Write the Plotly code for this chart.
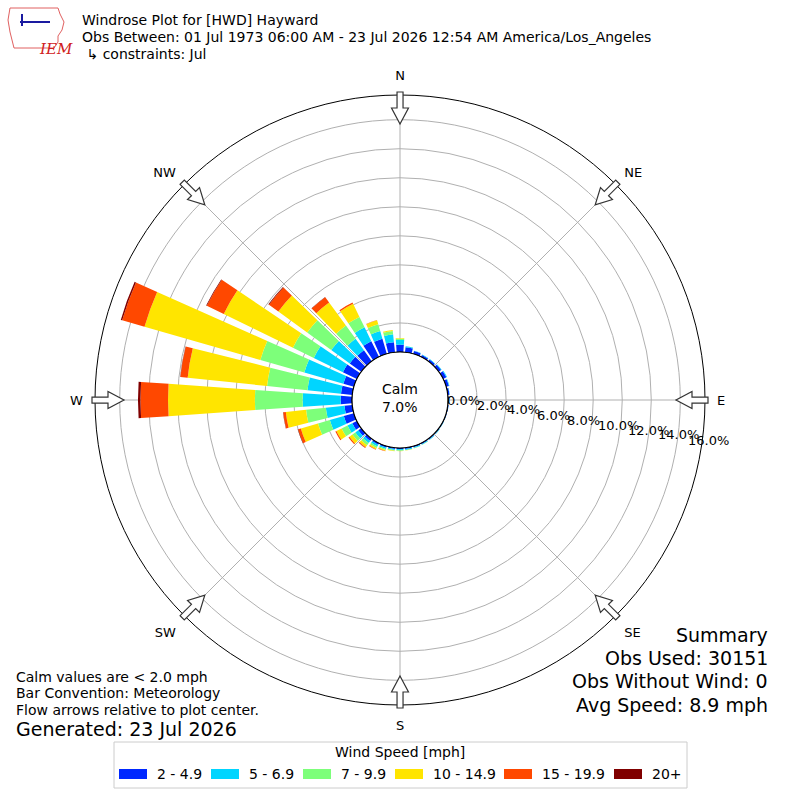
import math
import plotly.graph_objects as go

# wind directions (deg, meteorology convention) and speed bins
directions = [0, 10, 20, 30, 40, 50, 60, 70, 80, 90, 100, 110,
              120, 130, 140, 150, 160, 170, 180, 190, 200, 210, 220, 230,
              240, 250, 260, 270, 280, 290, 300, 310, 320, 330, 340, 350]
speed_bins = ["2 - 4.9", "5 - 6.9", "7 - 9.9", "10 - 14.9", "15 - 19.9", "20+"]
bin_colors = ["#0028ff", "#00d5ff", "#7dff7a", "#ffe500", "#ff4800", "#800000"]

# frequency (%) per direction for each speed bin
spd_2_5 = [0.50, 0.35, 0.20, 0.15, 0.15, 0.20, 0.25, 0.20, 0.12, 0.08, 0.06, 0.05,
           0.05, 0.06, 0.07, 0.08, 0.08, 0.08, 0.08, 0.08, 0.10, 0.12, 0.18, 0.25,
           0.35, 0.72, 0.54, 0.78, 0.78, 0.75, 1.07, 0.97, 0.92, 1.20, 1.09, 0.70]
spd_5_7 = [0.33, 0.06, 0.03, 0.03, 0.03, 0.04, 0.05, 0.04, 0.02, 0.02, 0.01, 0.01,
           0.02, 0.03, 0.04, 0.05, 0.06, 0.07, 0.08, 0.08, 0.10, 0.13, 0.18, 0.25,
           0.37, 1.00, 1.29, 2.62, 2.32, 2.80, 2.23, 1.58, 0.98, 1.06, 0.54, 0.54]
spd_7_10 = [0.08, 0.01, 0.0, 0.0, 0.0, 0.0, 0.0, 0.0, 0.0, 0.0, 0.0, 0.0,
            0.0, 0.01, 0.01, 0.02, 0.02, 0.03, 0.04, 0.05, 0.08, 0.12, 0.18, 0.25,
            0.45, 0.85, 1.37, 3.29, 2.80, 3.15, 1.60, 2.05, 1.13, 0.80, 0.50, 0.23]
spd_10_15 = [0.04, 0.0, 0.0, 0.0, 0.0, 0.0, 0.0, 0.0, 0.0, 0.0, 0.0, 0.0,
             0.0, 0.0, 0.0, 0.0, 0.01, 0.01, 0.02, 0.03, 0.06, 0.10, 0.17, 0.25,
             0.40, 1.23, 1.40, 5.98, 5.50, 8.30, 5.30, 2.45, 1.97, 1.00, 0.28, 0.07]
spd_15_20 = [0.0, 0.0, 0.0, 0.0, 0.0, 0.0, 0.0, 0.0, 0.0, 0.0, 0.0, 0.0,
             0.0, 0.0, 0.0, 0.0, 0.0, 0.0, 0.0, 0.01, 0.02, 0.04, 0.06, 0.08,
             0.08, 0.20, 0.18, 1.90, 0.50, 1.60, 1.30, 0.80, 0.45, 0.10, 0.02, 0.0]
spd_20_up = [0.0, 0.0, 0.0, 0.0, 0.0, 0.0, 0.0, 0.0, 0.0, 0.0, 0.0, 0.0,
             0.0, 0.0, 0.0, 0.0, 0.0, 0.0, 0.0, 0.0, 0.0, 0.0, 0.01, 0.0,
             0.0, 0.02, 0.02, 0.17, 0.02, 0.10, 0.05, 0.05, 0.02, 0.0, 0.0, 0.0]
speed_data = [spd_2_5, spd_5_7, spd_7_10, spd_10_15, spd_15_20, spd_20_up]

compass = ["N", "NE", "E", "SE", "S", "SW", "W", "NW"]
compass_deg = [0, 45, 90, 135, 180, 225, 270, 315]
rticks = [0, 2, 4, 6, 8, 10, 12, 14, 16]
calm_pct = 7.0

FONT = "DejaVu Sans"
W = H = 800
CX, CY = 400, 400      # plot centre in pixels
R_OUT, R_HOLE = 305, 48


def px(x):
    return x / W


def py(y):
    return 1 - y / H


fig = go.Figure()
for name, vals, col in zip(speed_bins, speed_data, bin_colors):
    fig.add_trace(go.Barpolar(r=vals, theta=directions, width=8, name=name,
                              marker_color=col, marker_line_width=0))

fig.update_layout(
    width=W, height=H, margin=dict(l=0, r=0, t=0, b=0),
    paper_bgcolor="white", plot_bgcolor="white", showlegend=False,
    font=dict(family=FONT, size=13, color="black"),
    polar=dict(
        domain=dict(x=[px(CX - R_OUT), px(CX + R_OUT)], y=[py(CY + R_OUT), py(CY - R_OUT)]),
        hole=R_HOLE / R_OUT, barmode="stack", bgcolor="white",
        angularaxis=dict(rotation=90, direction="clockwise", tickmode="array",
                         tickvals=compass_deg, ticktext=compass, ticks="outside",
                         ticklen=9, tickcolor="rgba(0,0,0,0)", showline=True,
                         linecolor="black", linewidth=1, gridcolor="#b0b0b0",
                         tickfont=dict(size=13)),
        radialaxis=dict(range=[0, 17.7], tickmode="array", tickvals=rticks,
                        showticklabels=False, showline=False, ticks="",
                        gridcolor="#b0b0b0"),
    ),
)

shapes = []
# calm circle
shapes.append(dict(type="circle", xref="paper", yref="paper",
                   x0=px(CX - R_HOLE), x1=px(CX + R_HOLE),
                   y0=py(CY + R_HOLE), y1=py(CY - R_HOLE),
                   line=dict(color="black", width=1.2), fillcolor="white"))

# flow arrows on the outer ring
arrow = [(308, -3), (292, -3), (292, -8.5), (276, 0), (292, 8.5), (292, 3), (308, 3)]
for a in compass_deg:
    s, c = math.sin(math.radians(a)), math.cos(math.radians(a))
    pts = []
    for r, t in arrow:
        x = CX + r * s + t * c
        y = CY - r * c + t * s
        pts.append("%.4f,%.4f" % (px(x), py(y)))
    shapes.append(dict(type="path", xref="paper", yref="paper",
                       path="M" + " L".join(pts) + " Z",
                       line=dict(color="#333333", width=1.2), fillcolor="white"))

# legend box
leg_x = [119, 211, 303, 395, 504, 614]
shapes.append(dict(type="rect", xref="paper", yref="paper",
                   x0=px(114), x1=px(687), y0=py(788), y1=py(742),
                   line=dict(color="#cccccc", width=1), fillcolor="white"))
for x, col in zip(leg_x, bin_colors):
    shapes.append(dict(type="rect", xref="paper", yref="paper",
                       x0=px(x), x1=px(x + 28), y0=py(779), y1=py(769),
                       line=dict(width=0), fillcolor=col))

# IEM logo, rough outline
logo = [(10, 8), (58, 8), (60, 14), (64, 22), (62, 30), (58, 36), (58, 42),
        (54, 48), (14, 48), (12, 40), (10, 32), (8, 20)]
shapes.append(dict(type="path", xref="paper", yref="paper",
                   path="M" + " L".join("%.4f,%.4f" % (px(x), py(y)) for x, y in logo) + " Z",
                   line=dict(color="#e06060", width=1)))
shapes.append(dict(type="line", xref="paper", yref="paper",
                   x0=px(20), x1=px(50), y0=py(22), y1=py(22),
                   line=dict(color="#1a1aa0", width=2)))
shapes.append(dict(type="line", xref="paper", yref="paper",
                   x0=px(22), x1=px(22), y0=py(14), y1=py(26),
                   line=dict(color="#1a1aa0", width=2)))
fig.update_layout(shapes=shapes)


def note(x, y, text, size=13, anchor="left", **kw):
    fig.add_annotation(x=px(x), y=py(y), xref="paper", yref="paper", text=text,
                       showarrow=False, xanchor=anchor, yanchor="middle",
                       font=dict(family=FONT, size=size, color=kw.pop("color", "black")), **kw)


# radial tick labels, stepping down to the right like the original
for v in rticks:
    note(445 + 15.06 * v, 400 + 2.5 * v, "%.1f%%" % v, 13)

note(80, 20, "Windrose Plot for [HWD] Hayward", 14)
note(80, 37, "Obs Between: 01 Jul 1973 06:00 AM - 23 Jul 2026 12:54 AM America/Los_Angeles", 14)
note(80, 54, " \u21b3 constraints: Jul", 14)
fig.add_annotation(x=px(37), y=py(38), xref="paper", yref="paper", text="<i>IEM</i>",
                   showarrow=False, font=dict(family="DejaVu Serif", size=15, color="#d02020"))

note(400, 389, "Calm", 14, "center")
note(400, 407, "%.1f%%" % calm_pct, 14, "center")

note(14, 677, "Calm values are &lt; 2.0 mph", 14)
note(14, 693, "Bar Convention: Meteorology", 14)
note(14, 710, "Flow arrows relative to plot center.", 14)
note(14, 729, "Generated: 23 Jul 2026", 19)

note(770, 635, "Summary", 19, "right")
note(770, 658, "Obs Used: 30151", 19, "right")
note(770, 681, "Obs Without Wind: 0", 19, "right")
note(770, 705, "Avg Speed: 8.9 mph", 19, "right")

note(400, 752, "Wind Speed [mph]", 14, "center")
for x, lab in zip(leg_x, speed_bins):
    note(x + 36, 774, lab, 14)

fig.write_html("out.html", config={"displayModeBar": False},
               post_script="document.body.style.margin='0';")
